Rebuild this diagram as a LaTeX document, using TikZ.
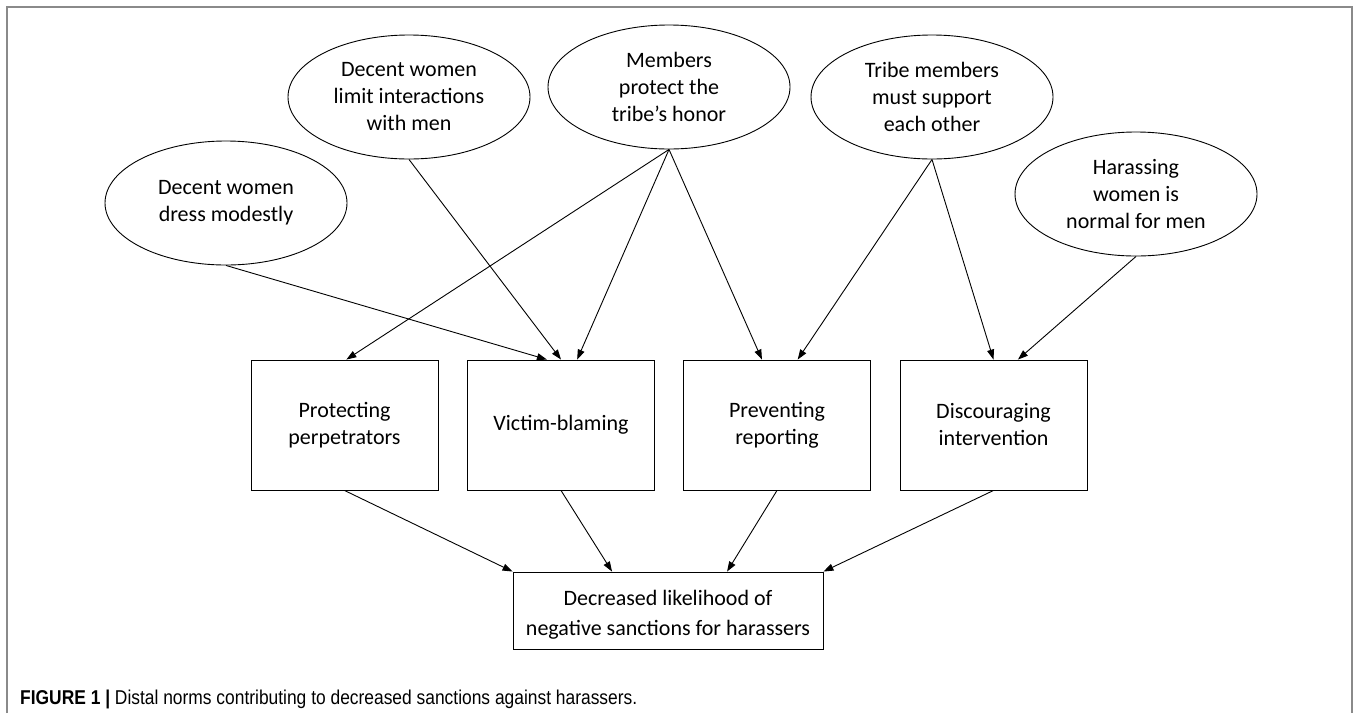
\documentclass[tikz,border=0pt]{standalone}
\usepackage{fontspec}
\setmainfont{Carlito}
\newfontfamily\capfont[FakeStretch=0.87]{Liberation Sans}
\usetikzlibrary{arrows.meta,shapes.geometric,calc}
\definecolor{framec}{HTML}{8A8A8A}
\tikzset{
  norm/.style={ellipse, draw, line width=0.9pt, inner sep=0pt, minimum width=242pt, minimum height=124pt, align=center, font=\fontsize{22}{27}\selectfont},
  mech/.style={rectangle, draw, line width=0.9pt, inner sep=0pt, minimum width=187pt, minimum height=130pt, align=center, font=\fontsize{22}{27}\selectfont},
  outc/.style={rectangle, draw, line width=0.9pt, inner sep=0pt, minimum width=310pt, minimum height=77pt, align=center, font=\fontsize{22}{30}\selectfont},
  link/.style={-{Triangle[length=10pt,width=7pt]}, line width=0.9pt},
}
% point along the top edge of a box
\newcommand{\topat}[2]{($(#1.north west)!#2!(#1.north east)$)}

\begin{document}
\begin{tikzpicture}[x=1pt,y=-1pt]
  \useasboundingbox (0,0) rectangle (1356,713);
  \draw[framec, line width=1.5pt] (7,713) -- (7,7) -- (1352,7) -- (1352,713);
  % norms
  \node[norm] (dress) at (226,203) {Decent women\\dress modestly};
  \node[norm] (limit) at (409,97) {Decent women\\limit interactions\\with men};
  \node[norm] (honor) at (669,87) {Members\\protect the\\tribe’s honor};
  \node[norm] (support) at (932,97) {Tribe members\\must support\\each other};
  \node[norm] (normal) at (1136,194) {Harassing\\women is\\normal for men};
  % mechanisms
  \node[mech] (protect) at (344.5,425) {Protecting\\perpetrators};
  \node[mech] (blame) at (561,425) {Victim-blaming};
  \node[mech] (report) at (777,425) {Preventing\\reporting};
  \node[mech] (interv) at (993.5,425) {Discouraging\\intervention};
  \node[outc] (sanct) at (668,610.5) {\rule{0pt}{24pt}Decreased likelihood of\\negative sanctions for harassers};
  % links
  \draw[link] (dress.south) -- \topat{blame}{0.425};
  \draw[link] (limit.south) -- \topat{blame}{0.5};
  \draw[link] (honor.south) -- \topat{protect}{0.51};
  \draw[link] (honor.south) -- \topat{blame}{0.586};
  \draw[link] (honor.south) -- \topat{report}{0.42};
  \draw[link] (support.south) -- \topat{report}{0.61};
  \draw[link] (support.south) -- \topat{interv}{0.5};
  \draw[link] (normal.south) -- \topat{interv}{0.63};
  \draw[link] (protect.south) -- (sanct.north west);
  \draw[link] (blame.south) -- \topat{sanct}{0.32};
  \draw[link] (report.south) -- \topat{sanct}{0.69};
  \draw[link] (interv.south) -- (sanct.north east);
  \node[anchor=west, inner sep=0pt, font=\capfont\fontsize{20}{22}\selectfont] (cap) at (20,699) {\textbf{FIGURE 1 |} Distal norms contributing to decreased sanctions against harassers.};
\end{tikzpicture}
\end{document}
